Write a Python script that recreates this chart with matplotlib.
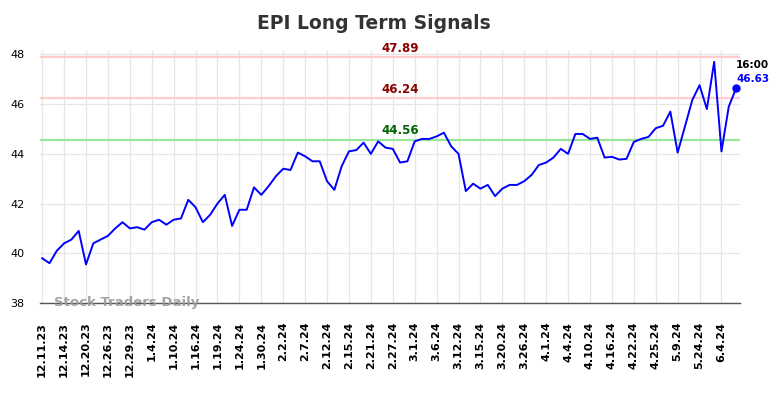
import matplotlib
matplotlib.use("Agg")
import matplotlib.pyplot as plt
import numpy as np

TITLE = "EPI Long Term Signals"

tick_labels = [
    "12.11.23", "12.14.23", "12.20.23", "12.26.23", "12.29.23", "1.4.24",
    "1.10.24", "1.16.24", "1.19.24", "1.24.24", "1.30.24", "2.2.24",
    "2.7.24", "2.12.24", "2.15.24", "2.21.24", "2.27.24", "3.1.24",
    "3.6.24", "3.12.24", "3.15.24", "3.20.24", "3.26.24", "4.1.24",
    "4.4.24", "4.10.24", "4.16.24", "4.22.24", "4.25.24", "5.9.24",
    "5.24.24", "6.4.24",
]

prices = [
    39.80, 39.60, 40.10, 40.40, 40.55, 40.90, 39.55, 40.40, 40.55, 40.70,
    41.00, 41.25, 41.00, 41.05, 40.95, 41.25, 41.35, 41.15, 41.35, 41.40,
    42.15, 41.85, 41.25, 41.55, 42.00, 42.35, 41.10, 41.75, 41.75, 42.65,
    42.35, 42.70, 43.10, 43.40, 43.35, 44.05, 43.90, 43.70, 43.70, 42.90,
    42.55, 43.50, 44.10, 44.15, 44.45, 44.00, 44.50, 44.25, 44.20, 43.65,
    43.70, 44.50, 44.60, 44.60, 44.70, 44.85, 44.30, 44.00, 42.50, 42.80,
    42.60, 42.75, 42.30, 42.60, 42.75, 42.75, 42.90, 43.15, 43.55, 43.65,
    43.85, 44.20, 44.00, 44.80, 44.80, 44.60, 44.65, 43.85, 43.88, 43.77,
    43.80, 44.48, 44.60, 44.68, 45.03, 45.13, 45.70, 44.05, 45.10, 46.16,
    46.76, 45.80, 47.70, 44.10, 45.90, 46.63,
]

signal_levels = [47.89, 46.24, 44.56]
signal_line_colors = ["#ffcccc", "#ffcccc", "#99e699"]
signal_text_colors = ["#8b0000", "#8b0000", "#006400"]

last_time = "16:00"


def main() -> None:
    x = np.arange(len(prices))
    tick_pos = np.arange(0, len(tick_labels) * 3, 3)

    fig = plt.figure(figsize=(7.84, 3.98), dpi=100)
    ax = fig.add_axes([0.051, 0.2387, 0.893, 0.634])

    ax.set_xlim(-0.3, len(prices) - 1 + 0.55)
    ax.set_ylim(38, 48.15)

    ax.set_xticks(tick_pos)
    ax.set_xticklabels(tick_labels, rotation=90, fontsize=8, fontweight="bold")
    ax.set_yticks(np.arange(38, 49, 2))
    ax.tick_params(axis="y", labelsize=8, length=0, pad=11)
    ax.tick_params(axis="x", length=0, pad=13.5)
    ax.grid(True, color="#e6e6e6", linewidth=0.9)
    ax.set_axisbelow(True)

    for side in ("top", "right", "left"):
        ax.spines[side].set_visible(False)
    ax.spines["bottom"].set_color("#555555")
    ax.spines["bottom"].set_linewidth(1.0)

    mid = (ax.get_xlim()[0] + ax.get_xlim()[1]) / 2
    for level, lc, tc in zip(signal_levels, signal_line_colors, signal_text_colors):
        ax.axhline(level, color=lc, linewidth=1.6, zorder=1)
        ax.text(mid + 1.4, level + 0.1, f"{level:.2f}", color=tc, fontsize=8.5,
                fontweight="bold", ha="center", va="bottom")

    ax.plot(x, prices, color="#0000ff", linewidth=1.4, zorder=3)
    ax.plot(x[-1], prices[-1], "o", color="#0000ff", markersize=5, zorder=4)

    ax.text(x[-1], prices[-1] + 0.93, last_time, fontsize=7.5, fontweight="bold",
            color="black", ha="left", va="center")
    ax.text(x[-1], prices[-1] + 0.37, f"{prices[-1]:.2f}", fontsize=7.5,
            fontweight="bold", color="#0000ff", ha="left", va="center")

    ax.text(1.6, 38.0, "Stock Traders Daily", fontsize=9.5, fontweight="bold",
            color="#999999", alpha=0.9, ha="left", va="center", zorder=5)

    fig.suptitle(TITLE, x=0.477, y=0.965, fontsize=13.5, fontweight="bold",
                 color="#333333")

    fig.savefig("out.png", dpi=100)


if __name__ == "__main__":
    main()
